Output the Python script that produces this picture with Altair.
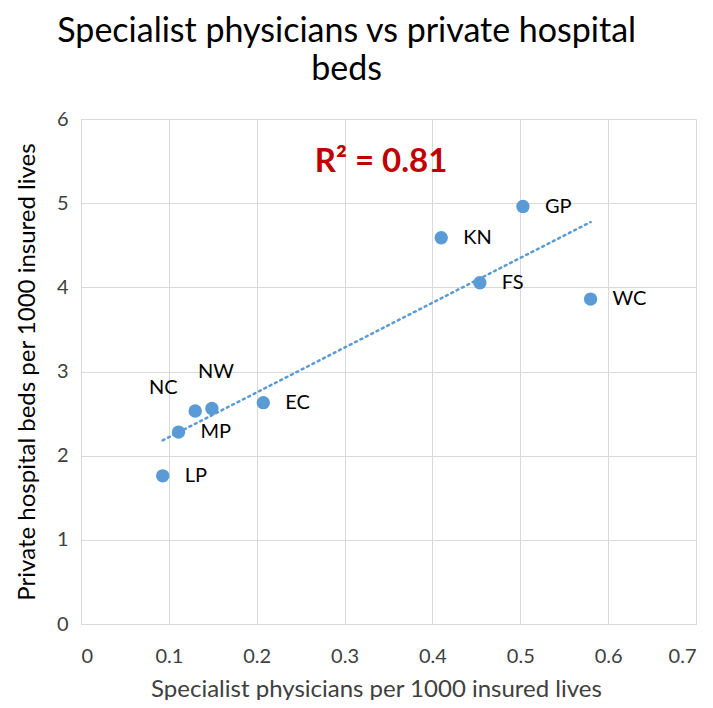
import altair as alt
import pandas as pd

regions = ["LP", "MP", "NC", "NW", "EC", "KN", "FS", "GP", "WC"]
specialists = [0.093, 0.111, 0.130, 0.149, 0.2075, 0.410, 0.454, 0.503, 0.580]
beds = [1.76, 2.28, 2.53, 2.56, 2.63, 4.59, 4.055, 4.96, 3.86]

x_ticks = [0, 0.1, 0.2, 0.3, 0.4, 0.5, 0.6, 0.7]
y_ticks = [0, 1, 2, 3, 4, 5, 6]

r2_text = ["R² = 0.81"]
r2_x = [0.3415]
r2_y = [5.49]

df = pd.DataFrame({"region": regions, "x": specialists, "y": beds})
ann = pd.DataFrame({"label": r2_text, "x": r2_x, "y": r2_y})

FONT = "Lato"
BLUE = "#5B9BD5"
GRID = "#d9d9d9"

xs = alt.Scale(domain=[0, 0.7], nice=False, zero=False)
ys = alt.Scale(domain=[0, 6], nice=False, zero=False)

xenc = alt.X("x:Q", scale=xs, axis=alt.Axis(
    title="Specialist physicians per 1000 insured lives",
    values=x_ticks, format="~g", ticks=False, grid=True, gridColor=GRID,
    domainColor=GRID, labelFont=FONT, labelFontSize=20, labelColor="#404040",
    labelPadding=22, titleFont=FONT, titleFontSize=24, titleFontWeight="normal",
    titleColor="#404040", titlePadding=11, titleX=295, titleAlign="center"))
yenc = alt.Y("y:Q", scale=ys, axis=alt.Axis(
    title="Private hospital beds per 1000 insured lives",
    values=y_ticks, format="~g", ticks=False, grid=True, gridColor=GRID,
    domainColor=GRID, labelFont=FONT, labelFontSize=20, labelColor="#404040",
    labelPadding=13, titleFont=FONT, titleFontSize=24, titleFontWeight="normal",
    titleColor="#000000", titlePadding=17))

base = alt.Chart(df)

trend = base.transform_regression("x", "y").mark_line(
    color=BLUE, strokeWidth=2.5, strokeDash=[2, 4], strokeCap="round"
).encode(x=xenc, y=yenc)

points = base.mark_circle(size=180, color=BLUE, opacity=1).encode(x=xenc, y=yenc)

right_labels = base.transform_filter(
    "datum.region != 'NC' && datum.region != 'NW'"
).mark_text(align="left", baseline="middle", dx=22, font=FONT, fontSize=20, color="#000000").encode(
    x="x:Q", y="y:Q", text="region:N")

nc_label = base.transform_filter("datum.region == 'NC'").mark_text(
    align="center", baseline="middle", dx=-32, dy=-23, font=FONT, fontSize=20, color="#000000"
).encode(x="x:Q", y="y:Q", text="region:N")

nw_label = base.transform_filter("datum.region == 'NW'").mark_text(
    align="center", baseline="middle", dx=4, dy=-37, font=FONT, fontSize=20, color="#000000"
).encode(x="x:Q", y="y:Q", text="region:N")

r2 = alt.Chart(ann).mark_text(
    align="center", baseline="middle", font=FONT, fontSize=33, fontWeight="bold", color="#C00000"
).encode(x="x:Q", y="y:Q", text="label:N")

chart = alt.layer(trend, points, right_labels, nc_label, nw_label, r2).properties(
    width=615, height=505,
    title=alt.TitleParams(
        text=["Specialist physicians vs private hospital", "beds"],
        font=FONT, fontSize=34, fontWeight="normal", color="#000000",
        anchor="middle", frame="bounds", offset=22, lineHeight=38, dx=-9),
    autosize=alt.AutoSizeParams(type="none"),
    padding={"left": 73, "top": 111, "right": 9, "bottom": 76},
).configure_view(stroke=None)

chart.save("out.html", embed_options={"renderer": "svg", "actions": False})
